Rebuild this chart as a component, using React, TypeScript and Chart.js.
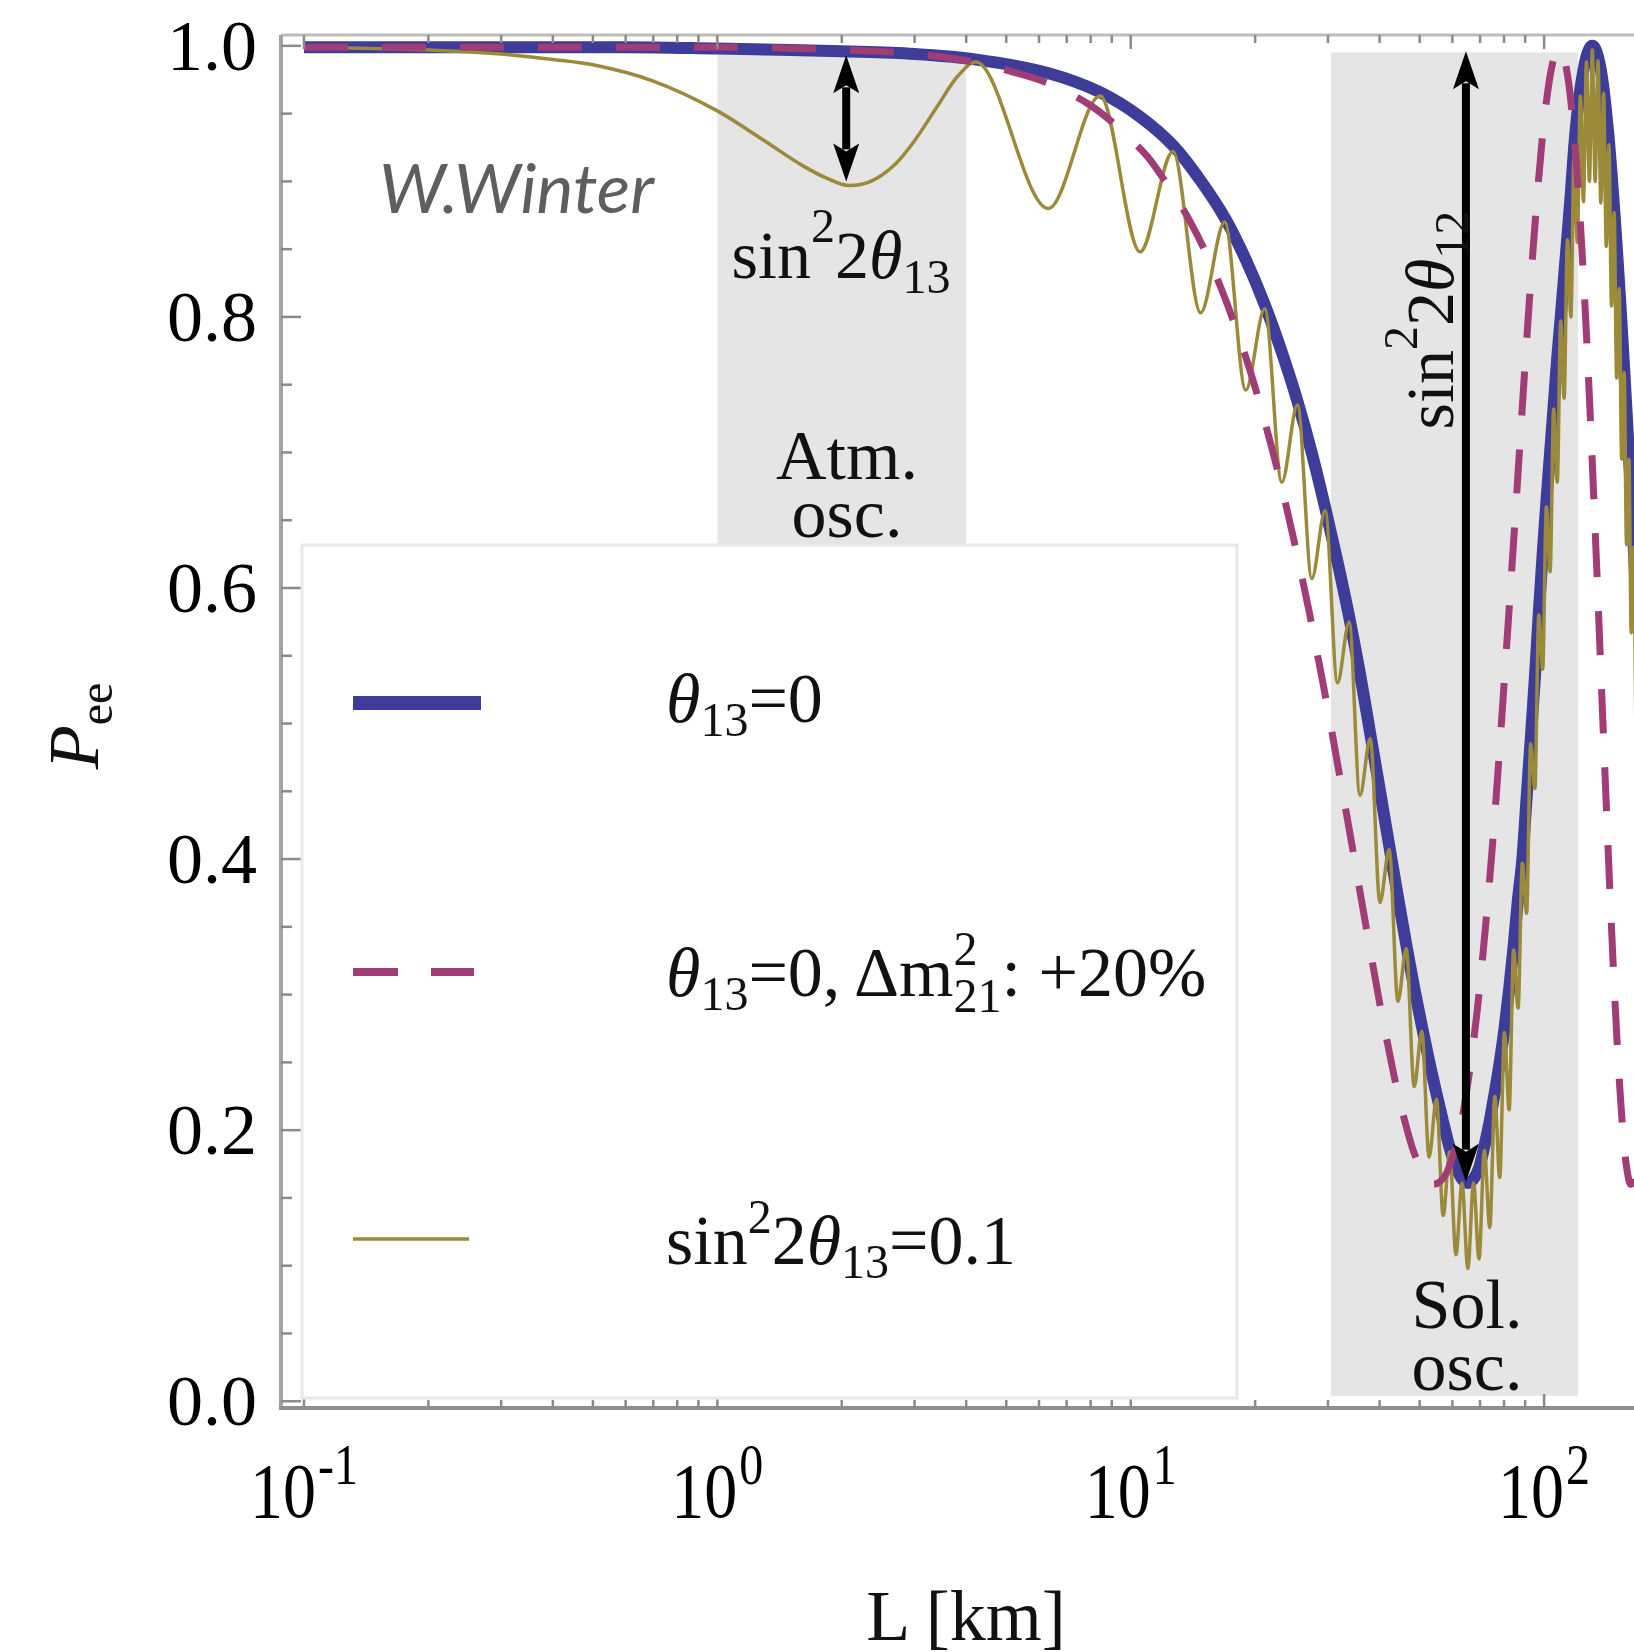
import React, { useEffect, useRef } from 'react';
import { Chart, registerables } from 'chart.js';

Chart.register(...registerables);

// ---------- data (L in km, P_ee) ----------
const blueCurve: [number, number][] = [
  [0.1, 0.999], [0.3, 0.999], [0.6, 0.999], [1.0, 0.998], [1.5, 0.997], [2.0, 0.996], [3.0, 0.994],
  [4.2, 0.99], [6.3, 0.98], [8.4, 0.966], [10.5, 0.948], [12.7, 0.926], [14.8, 0.9], [16.9, 0.873],
  [19.0, 0.842], [21.1, 0.809], [23.2, 0.774], [25.3, 0.738], [27.4, 0.7], [29.5, 0.66], [31.6, 0.62],
  [33.8, 0.578], [35.9, 0.536], [38.0, 0.492], [40.1, 0.45], [42.2, 0.41], [44.3, 0.372], [46.4, 0.337],
  [48.5, 0.305], [50.6, 0.277], [52.7, 0.251], [54.9, 0.227], [57.0, 0.206], [59.1, 0.187], [61.2, 0.173],
  [63.3, 0.164], [65.4, 0.161], [67.5, 0.164], [69.6, 0.172], [71.7, 0.188], [73.9, 0.207], [76.0, 0.228],
  [78.1, 0.25], [80.2, 0.275], [82.3, 0.304], [84.4, 0.336], [86.5, 0.371], [88.6, 0.4], [90.7, 0.445],
  [92.8, 0.488], [95.0, 0.534], [97.1, 0.582], [99.2, 0.625], [101.3, 0.664], [103.4, 0.7], [105.5, 0.735],
  [107.6, 0.77], [109.7, 0.8], [111.8, 0.83], [113.9, 0.86], [116.1, 0.892], [118.2, 0.925], [120.3, 0.95],
  [122.4, 0.968], [124.5, 0.982], [126.6, 0.992], [128.7, 0.998], [130.8, 1.0], [132.9, 0.998], [135.0, 0.992],
  [137.2, 0.982], [139.3, 0.968], [141.4, 0.95], [143.5, 0.93], [145.6, 0.906], [147.7, 0.88], [149.8, 0.853],
  [151.9, 0.824], [154.1, 0.793], [156.2, 0.762], [158.3, 0.73], [160.4, 0.698], [162.5, 0.665],
  [164.6, 0.632], [166.8, 0.598],
];

const dashedCurve: [number, number][] = [
  [0.1, 0.999], [0.5, 0.999], [1, 0.999], [2, 0.997], [3, 0.994], [4, 0.989], [5, 0.982], [6, 0.975],
  [7, 0.966], [8, 0.956], [9, 0.944], [10, 0.931], [11, 0.918], [12, 0.902], [13, 0.886], [14, 0.869],
  [15, 0.851], [16, 0.832], [17, 0.812], [18, 0.791], [19, 0.77], [20, 0.748], [21, 0.725], [22, 0.702],
  [23, 0.679], [24, 0.655], [25, 0.631], [26, 0.607], [27, 0.583], [28, 0.558], [29, 0.534], [30, 0.51],
  [32, 0.462], [34, 0.417], [36, 0.373], [38, 0.332], [40, 0.294], [42, 0.261], [44, 0.231], [46, 0.207],
  [48, 0.187], [50, 0.173], [52, 0.163], [54, 0.16], [56, 0.162], [58, 0.168], [60, 0.18], [63, 0.205],
  [66, 0.243], [69, 0.29], [72, 0.347], [75, 0.41], [78, 0.48], [81, 0.553], [84, 0.625], [87, 0.697],
  [90, 0.766], [93, 0.83], [96, 0.885], [99, 0.932], [102, 0.966], [105, 0.988], [108.4, 0.998],
  [111, 0.994], [114, 0.978], [117, 0.949], [120, 0.908], [123, 0.858], [126, 0.8], [129, 0.734],
  [132, 0.664], [135, 0.592], [138, 0.519], [141, 0.449], [144, 0.382], [147, 0.321], [150, 0.268],
  [153, 0.224], [156, 0.19], [159, 0.169], [162, 0.16], [165, 0.164], [167, 0.172],
];

const oliveCurve: [number, number][] = [
  [0.1, 0.999], [0.2, 0.997], [0.3, 0.994], [0.4, 0.99], [0.5, 0.986], [0.7, 0.974], [1.0, 0.952],
  [1.3, 0.93], [1.6, 0.912], [1.85, 0.902], [2.08, 0.897], [2.35, 0.9], [2.7, 0.913], [3.0, 0.93],
  [3.4, 0.955], [3.8, 0.977], [4.22, 0.988],
  [6.32, 0.88], [8.44, 0.963], [10.54, 0.848], [12.66, 0.922], [14.76, 0.803], [16.88, 0.87],
  [18.98, 0.746], [21.1, 0.806], [23.2, 0.678], [25.32, 0.735], [27.42, 0.607], [29.54, 0.657],
  [31.64, 0.53], [33.76, 0.575], [35.86, 0.447], [37.98, 0.489], [40.08, 0.368], [42.2, 0.407],
  [44.3, 0.295], [46.4, 0.334], [48.5, 0.232], [50.6, 0.273], [52.7, 0.18], [54.9, 0.223],
  [57.0, 0.137], [59.1, 0.184], [61.2, 0.108], [63.3, 0.161], [65.4, 0.098], [67.5, 0.161],
  [69.6, 0.105], [71.7, 0.185], [73.9, 0.128], [76.0, 0.225], [78.1, 0.165], [80.2, 0.272],
  [82.3, 0.215], [84.4, 0.333], [86.5, 0.29], [88.6, 0.397], [90.7, 0.36], [92.8, 0.485],
  [95.0, 0.452], [97.1, 0.58], [99.2, 0.54], [101.3, 0.66], [103.4, 0.612], [105.5, 0.732],
  [107.6, 0.678], [109.7, 0.797], [111.8, 0.74], [113.9, 0.857], [116.1, 0.8], [118.2, 0.922],
  [120.3, 0.855], [122.4, 0.963], [124.5, 0.885], [126.6, 0.988], [128.7, 0.9], [130.8, 0.997],
  [132.9, 0.9], [135.0, 0.989], [137.2, 0.884], [139.3, 0.965], [141.4, 0.852], [143.5, 0.927],
  [145.6, 0.808], [147.7, 0.877], [149.8, 0.755], [151.9, 0.821], [154.1, 0.695], [156.2, 0.759],
  [158.3, 0.632], [160.4, 0.695], [162.5, 0.567], [164.6, 0.63], [166.7, 0.5],
];

// shaded regions (L range) and their vertical extent
const bandStartL = [1, 30.5];
const bandEndL = [4, 121];
const bandTopP = 0.995;
const bandBottomP = 0.004;

// double-headed arrows
const arrowL = [2.05, 64.7];
const arrowLowP = [0.9, 0.162];
const arrowHighP = [0.993, 0.996];

// axes
const xMin = 0.088;
const xMax = 165;
const yMin = -0.005;
const yMax = 1.008;
const xMajorTicks = [0.1, 1, 10, 100];
const xTickExponents = ['-1', '0', '1', '2'];
const xMinorTicks = [0.2, 0.3, 0.4, 0.5, 0.6, 0.7, 0.8, 0.9, 2, 3, 4, 5, 6, 7, 8, 9, 20, 30, 40, 50, 60, 70, 80, 90];
const yMajorTicks = [0, 0.2, 0.4, 0.6, 0.8, 1.0];
const yTickLabels = ['0.0', '0.2', '0.4', '0.6', '0.8', '1.0'];
const yMinorTicks = [0.05, 0.1, 0.15, 0.25, 0.3, 0.35, 0.45, 0.5, 0.55, 0.65, 0.7, 0.75, 0.85, 0.9, 0.95];

const BLUE = '#3d3d99';
const MAGENTA = '#a03d76';
const OLIVE = '#9a8a3a';
const SERIF = '"Liberation Serif", "Times New Roman", serif';

const toXY = (arr: [number, number][]) => arr.map(([x, y]) => ({ x, y }));

const decorPlugin = {
  id: 'decor',
  afterDatasetsDraw(chart: any) {
    const { ctx, chartArea: a, scales } = chart;
    const xs = scales.x;
    const ys = scales.y;
    ctx.save();

    // arrows
    ctx.fillStyle = '#000';
    ctx.strokeStyle = '#000';
    for (let i = 0; i < arrowL.length; i++) {
      const px = xs.getPixelForValue(arrowL[i]);
      const yb = ys.getPixelForValue(arrowLowP[i]);
      const yt = ys.getPixelForValue(arrowHighP[i]);
      const hl = 38;
      const hw = 13;
      ctx.lineWidth = 8;
      ctx.beginPath();
      ctx.moveTo(px, yt + hl - 6);
      ctx.lineTo(px, yb - hl + 6);
      ctx.stroke();
      ctx.beginPath();
      ctx.moveTo(px, yt);
      ctx.lineTo(px - hw, yt + hl);
      ctx.lineTo(px, yt + hl - 8);
      ctx.lineTo(px + hw, yt + hl);
      ctx.closePath();
      ctx.fill();
      ctx.beginPath();
      ctx.moveTo(px, yb);
      ctx.lineTo(px - hw, yb - hl);
      ctx.lineTo(px, yb - hl + 8);
      ctx.lineTo(px + hw, yb - hl);
      ctx.closePath();
      ctx.fill();
    }

    // frame
    ctx.lineCap = 'butt';
    ctx.strokeStyle = '#bdbdbd';
    ctx.lineWidth = 3;
    ctx.beginPath();
    ctx.moveTo(a.left, a.top);
    ctx.lineTo(a.right, a.top);
    ctx.stroke();
    ctx.strokeStyle = '#a4a4a4';
    ctx.lineWidth = 4;
    ctx.beginPath();
    ctx.moveTo(a.left, a.top);
    ctx.lineTo(a.left, a.bottom);
    ctx.stroke();
    ctx.strokeStyle = '#8e8e8e';
    ctx.beginPath();
    ctx.moveTo(a.left - 2, a.bottom);
    ctx.lineTo(a.right, a.bottom);
    ctx.stroke();

    // ticks
    ctx.strokeStyle = '#8a8a8a';
    ctx.lineWidth = 2.5;
    const tick = (x1: number, y1: number, x2: number, y2: number) => {
      ctx.beginPath();
      ctx.moveTo(x1, y1);
      ctx.lineTo(x2, y2);
      ctx.stroke();
    };
    yMajorTicks.forEach((v) => {
      const py = ys.getPixelForValue(v);
      tick(a.left, py, a.left + 20, py);
    });
    yMinorTicks.forEach((v) => {
      const py = ys.getPixelForValue(v);
      tick(a.left, py, a.left + 11, py);
    });
    xMajorTicks.forEach((v) => {
      const px = xs.getPixelForValue(v);
      tick(px, a.bottom, px, a.bottom - 14);
      tick(px, a.top, px, a.top + 14);
    });
    xMinorTicks.forEach((v) => {
      const px = xs.getPixelForValue(v);
      tick(px, a.bottom, px, a.bottom - 8);
      tick(px, a.top, px, a.top + 8);
    });

    // y tick labels
    ctx.fillStyle = '#000';
    ctx.font = `72px ${SERIF}`;
    ctx.textAlign = 'right';
    ctx.textBaseline = 'alphabetic';
    yMajorTicks.forEach((v, i) => {
      const py = ys.getPixelForValue(v);
      ctx.fillText(yTickLabels[i], a.left - 24, py + 24);
    });

    // x tick labels: 10^n
    ctx.textAlign = 'left';
    xMajorTicks.forEach((v, i) => {
      const px = xs.getPixelForValue(v);
      const baseFont = `66px ${SERIF}`;
      const supFont = `48px ${SERIF}`;
      ctx.font = baseFont;
      const wb = ctx.measureText('10').width;
      ctx.font = supFont;
      const ws = ctx.measureText(xTickExponents[i]).width;
      const left = px - (wb + 2 + ws) / 2;
      ctx.save();
      ctx.translate(left, a.bottom + 109);
      ctx.scale(1, 1.2);
      ctx.font = baseFont;
      ctx.fillText('10', 0, 0);
      ctx.restore();
      ctx.save();
      ctx.translate(left + wb + 2, a.bottom + 76);
      ctx.scale(1, 1.2);
      ctx.font = supFont;
      ctx.fillText(xTickExponents[i], 0, 0);
      ctx.restore();
    });

    ctx.restore();
  },
};

export default function App() {
  const ref = useRef<HTMLCanvasElement>(null);

  useEffect(() => {
    if (!ref.current) return;
    const bandSets = bandStartL.map((s, i) => ({
      label: 'band' + i,
      data: [
        { x: s, y: bandTopP },
        { x: bandEndL[i], y: bandTopP },
      ],
      fill: { value: bandBottomP },
      backgroundColor: '#e5e5e5',
      borderColor: 'rgba(0,0,0,0)',
      borderWidth: 0,
      pointRadius: 0,
      order: 10,
    }));
    const chart = new Chart(ref.current, {
      type: 'line',
      data: {
        datasets: [
          ...bandSets,
          {
            label: 'theta13=0',
            data: toXY(blueCurve),
            borderColor: BLUE,
            borderWidth: 12,
            pointRadius: 0,
            fill: false,
            cubicInterpolationMode: 'monotone',
            order: 3,
          },
          {
            label: 'sin^2 2theta13=0.1',
            data: toXY(oliveCurve),
            borderColor: OLIVE,
            borderWidth: 3.5,
            pointRadius: 0,
            fill: false,
            cubicInterpolationMode: 'monotone',
            order: 2,
          },
          {
            label: 'theta13=0, dm21 +20%',
            data: toXY(dashedCurve),
            borderColor: MAGENTA,
            borderWidth: 7,
            borderDash: [44, 34],
            pointRadius: 0,
            fill: false,
            cubicInterpolationMode: 'monotone',
            order: 1,
          },
        ] as any,
      },
      options: {
        responsive: false,
        animation: false,
        devicePixelRatio: 1,
        events: [],
        layout: { padding: { left: 0, right: 0, top: 35, bottom: 0 } },
        plugins: { legend: { display: false }, tooltip: { enabled: false } },
        scales: {
          x: {
            type: 'logarithmic',
            min: xMin,
            max: xMax,
            grid: { display: false, drawTicks: false },
            border: { display: false },
            ticks: { display: false },
            afterFit: (s: any) => {
              s.height = 244;
            },
          },
          y: {
            type: 'linear',
            min: yMin,
            max: yMax,
            grid: { display: false, drawTicks: false },
            border: { display: false },
            ticks: { display: false },
            afterFit: (s: any) => {
              s.width = 281;
            },
          },
        },
      } as any,
      plugins: [decorPlugin],
    });
    return () => chart.destroy();
  }, []);

  return (
    <div style={{ position: 'absolute', left: 0, top: 0, width: 1634, height: 1652, background: '#fff', overflow: 'hidden' }}>
      <canvas ref={ref} width={1634} height={1652} style={{ position: 'absolute', left: 0, top: 0, width: 1634, height: 1652 }} />
      <svg width={1634} height={1652} style={{ position: 'absolute', left: 0, top: 0, pointerEvents: 'none' }} fontFamily={SERIF}>
        {/* legend */}
        <rect x={302} y={545} width={935} height={853} fill="#fff" stroke="#e8e8e8" strokeWidth={3} />
        <line x1={353} x2={481} y1={703} y2={703} stroke={BLUE} strokeWidth={14} />
        <line x1={353} x2={474} y1={972} y2={972} stroke={MAGENTA} strokeWidth={8} strokeDasharray="45 33" />
        <line x1={353} x2={469} y1={1239} y2={1239} stroke={OLIVE} strokeWidth={3.5} />
        <text x={666} y={722} fontSize={70} fill="#111">
          <tspan fontStyle="italic">θ</tspan>
          <tspan fontSize={48} dy={14}>13</tspan>
          <tspan dy={-14}>=0</tspan>
        </text>
        <text x={666} y={996} fontSize={70} fill="#111">
          <tspan fontStyle="italic">θ</tspan>
          <tspan fontSize={48} dy={14}>13</tspan>
          <tspan dy={-14}>=0, Δm</tspan>
          <tspan fontSize={48} dy={-31}>2</tspan>
          <tspan fontSize={48} dx={-24} dy={47}>21</tspan>
          <tspan dy={-16}>: +20%</tspan>
        </text>
        <text x={666} y={1264} fontSize={70} fill="#111">
          <tspan>sin</tspan>
          <tspan fontSize={48} dy={-31}>2</tspan>
          <tspan dy={31}>2</tspan>
          <tspan fontStyle="italic">θ</tspan>
          <tspan fontSize={48} dy={14}>13</tspan>
          <tspan dy={-14}>=0.1</tspan>
        </text>

        {/* annotations */}
        <text x={841} y={278} fontSize={68} textAnchor="middle" fill="#111">
          <tspan>sin</tspan>
          <tspan fontSize={48} dy={-36}>2</tspan>
          <tspan dy={36}>2</tspan>
          <tspan fontStyle="italic">θ</tspan>
          <tspan fontSize={48} dy={15}>13</tspan>
        </text>
        <text x={847} y={479} fontSize={70} textAnchor="middle" fill="#111">Atm.</text>
        <text x={847} y={537} fontSize={70} textAnchor="middle" fill="#111">osc.</text>
        <text x={1467} y={1328} fontSize={70} textAnchor="middle" fill="#111">Sol.</text>
        <text x={1467} y={1390} fontSize={70} textAnchor="middle" fill="#111">osc.</text>
        <text transform="translate(1453,320) rotate(-90)" x={0} y={0} fontSize={68} textAnchor="middle" fill="#111">
          <tspan>sin</tspan>
          <tspan fontSize={48} dy={-36}>2</tspan>
          <tspan dy={36}>2</tspan>
          <tspan fontStyle="italic">θ</tspan>
          <tspan fontSize={48} dy={15}>12</tspan>
        </text>
        <text x={379} y={213} fontSize={68} fontStyle="italic" fontFamily="Lato, 'Open Sans', sans-serif" fill="#5e5e5e" textLength={275} lengthAdjust="spacingAndGlyphs">W.Winter</text>

        {/* axis titles */}
        <text transform="translate(98,726) rotate(-90)" x={0} y={0} fontSize={72} textAnchor="middle" fill="#111">
          <tspan fontStyle="italic">P</tspan>
          <tspan fontSize={48} dy={14}>ee</tspan>
        </text>
        <text x={966} y={1640} fontSize={72} textAnchor="middle" fill="#111">L [km]</text>
      </svg>
    </div>
  );
}
